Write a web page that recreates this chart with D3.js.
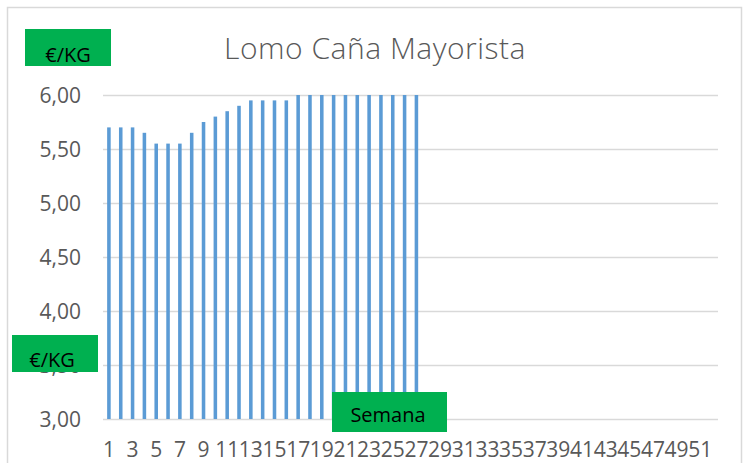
<!DOCTYPE html>
<html><head><meta charset="utf-8">
<script src="https://cdn.jsdelivr.net/npm/d3@7"></script>
<style>body{margin:0;background:#fff;} svg{display:block;}</style>
</head><body>
<svg id="chart" width="749" height="463"></svg>
<script>
const title = "Lomo Caña Mayorista";
const weeks = d3.range(1, 53).map(String);
const values = [5.70,5.70,5.70,5.65,5.55,5.55,5.55,5.65,5.75,5.80,5.85,5.90,5.95,5.95,5.95,5.95,
  6.00,6.00,6.00,6.00,6.00,6.00,6.00,6.00,6.00,6.00,6.00];
const yTicks = [3.00,3.50,4.00,4.50,5.00,5.50,6.00];
const yUnit = "€/KG";
const xName = "Semana";

const svg = d3.select("#chart");
const font = "'Open Sans', 'Liberation Sans', sans-serif";
const m = {left:103, right:718, top:95, bottom:419};

svg.append("rect").attr("x",7.5).attr("y",7.5).attr("width",734).attr("height",480)
  .attr("fill","#fff").attr("stroke","#d9d9d9").attr("stroke-width",1.5);

const x = d3.scaleBand().domain(weeks).range([m.left, m.right]).paddingInner(0.7).paddingOuter(0.35);
const y = d3.scaleLinear().domain([3,6]).range([m.bottom, m.top]);

// gridlines
svg.append("g").selectAll("line").data(yTicks).join("line")
  .attr("x1", m.left).attr("x2", m.right)
  .attr("y1", d=>Math.round(y(d))+0.5).attr("y2", d=>Math.round(y(d))+0.5)
  .attr("stroke","#d9d9d9").attr("stroke-width",1.3);

// y axis
const yAxis = svg.append("g").attr("transform",`translate(${m.left},0)`)
  .call(d3.axisLeft(y).tickValues(yTicks).tickSize(0).tickPadding(22)
    .tickFormat(d=>d3.format(".2f")(d).replace(".",",")));
yAxis.select(".domain").remove();
yAxis.selectAll("text").attr("font-family",font).attr("font-size",21).attr("fill","#595959").attr("dy","0.36em");

// x axis
const xAxis = svg.append("g").attr("transform",`translate(0,${m.bottom})`)
  .call(d3.axisBottom(x).tickValues(weeks.filter((d,i)=>i%2===0)).tickSize(0).tickPadding(23));
xAxis.select(".domain").remove();
xAxis.selectAll("text").attr("font-family",font).attr("font-size",21).attr("fill","#595959");

// bars
svg.append("g").selectAll("rect").data(values).join("rect")
  .attr("x",(d,i)=>x(weeks[i])).attr("width",x.bandwidth())
  .attr("y",d=>y(d)).attr("height",d=>y(3)-y(d))
  .attr("fill","#5b9bd5");

// title
svg.append("text").attr("x",375).attr("y",59).attr("text-anchor","middle")
  .attr("font-family",font).attr("font-weight",300).attr("font-size",30)
  .attr("letter-spacing",0.5).attr("fill","#595959").text(title);

// green labels
function greenBox(x0,y0,w,h,tx,ty,txt){
  svg.append("rect").attr("x",x0).attr("y",y0).attr("width",w).attr("height",h).attr("fill","#00b050");
  svg.append("text").attr("x",tx).attr("y",ty).attr("text-anchor","middle")
    .attr("font-family",font).attr("font-size",20).attr("fill","#000").text(txt);
}
greenBox(25,29,86,37,68,62,yUnit);
greenBox(12,335,86,37,52,367,yUnit);
greenBox(332,392,115,40,388,422,xName);
</script>
</body></html>
